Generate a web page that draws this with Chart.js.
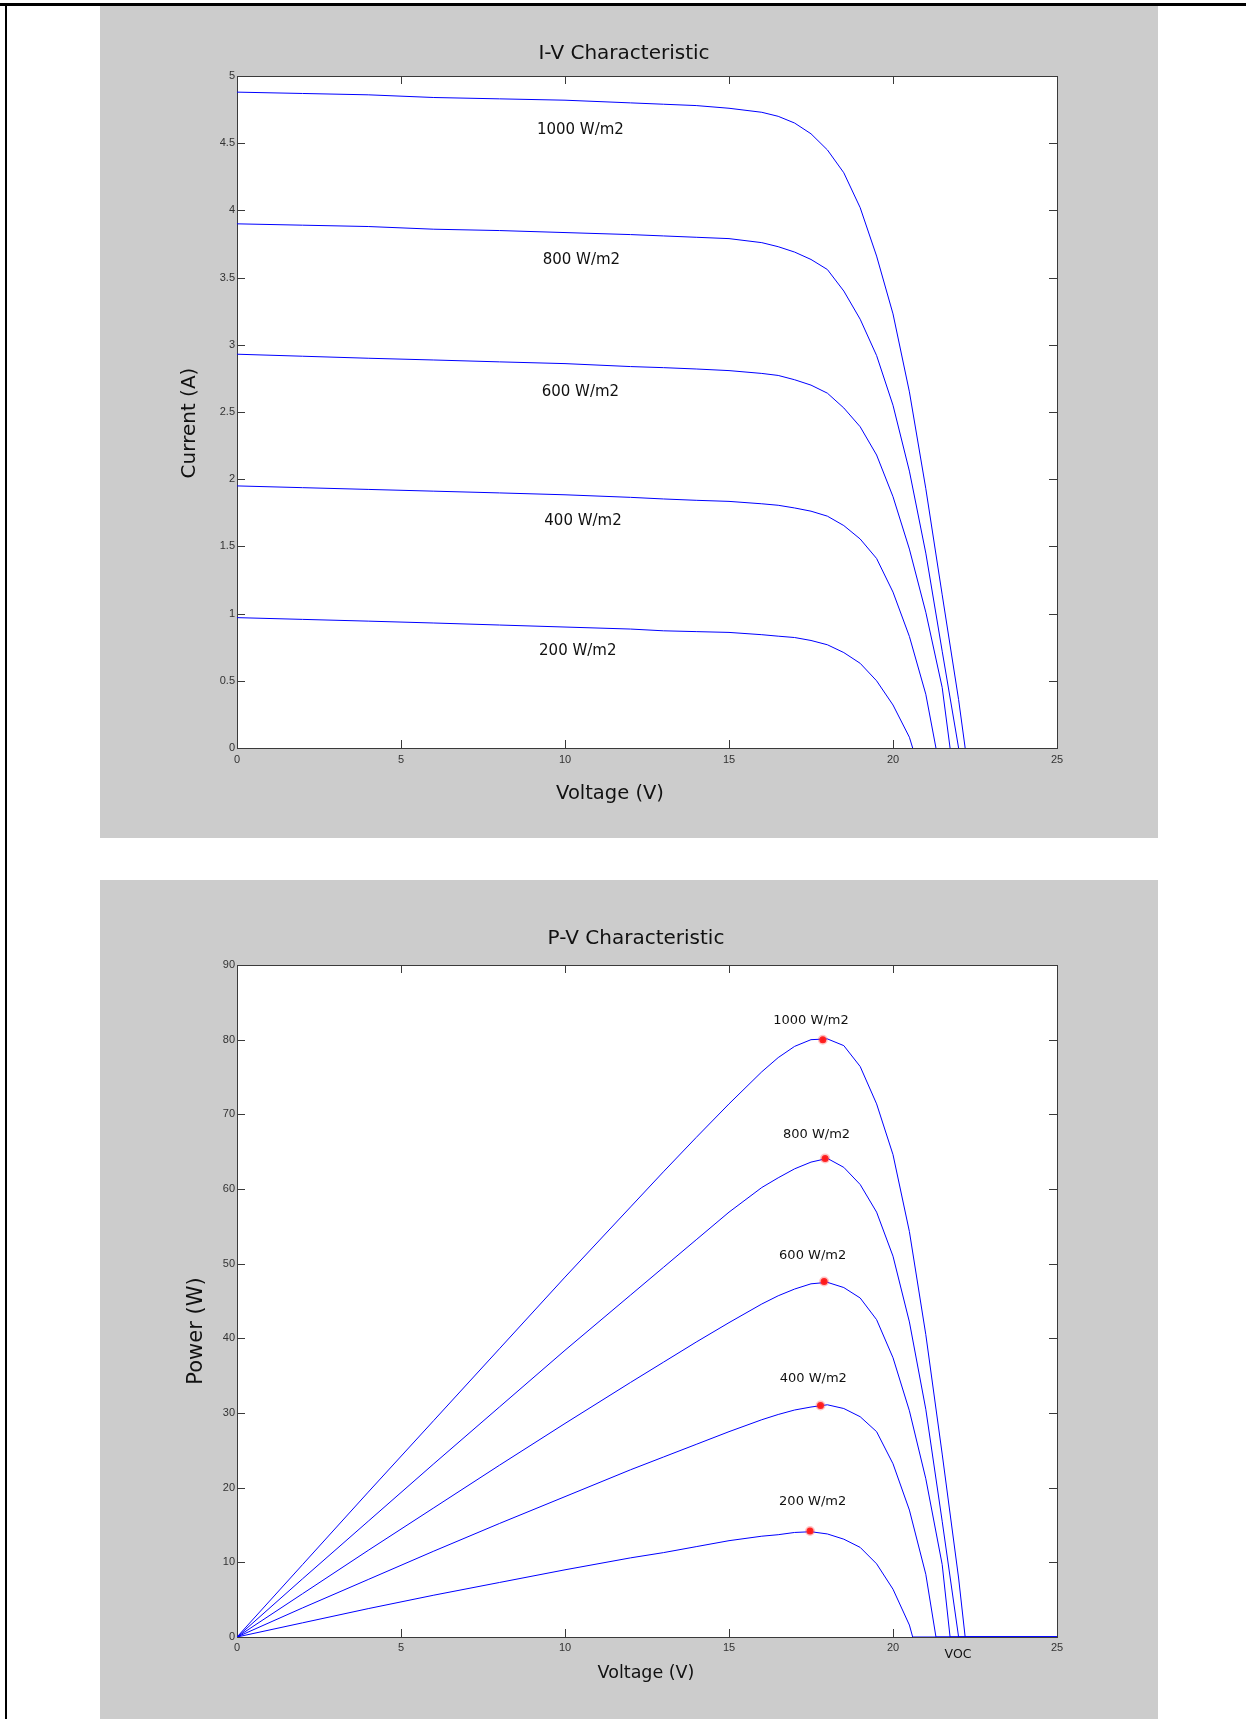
<!DOCTYPE html>
<html>
<head>
<meta charset="utf-8">
<script src="https://cdn.jsdelivr.net/npm/chart.js@4.4.1/dist/chart.umd.min.js"></script>
<style>
  html, body { margin: 0; padding: 0; background: #fff; }
  body { position: relative; width: 1246px; height: 1719px; overflow: hidden; }
  .edge-top { position: absolute; left: 0; top: 3px; width: 1246px; height: 3px; background: #000; }
  .edge-left { position: absolute; left: 5px; top: 3px; width: 2px; height: 1716px; background: #000; }
  .panel { position: absolute; left: 100px; background: #cccccc; }
  #ivPanel { top: 6px; }
  #pvPanel { top: 880px; }
</style>
</head>
<body>
<div class="edge-top"></div>
<div class="edge-left"></div>
<div class="panel" id="ivPanel"><canvas id="ivChart" width="1058" height="832"></canvas></div>
<div class="panel" id="pvPanel"><canvas id="pvChart" width="1058" height="839"></canvas></div>
<script>
// irradiance levels
const levels = ['1000 W/m2', '800 W/m2', '600 W/m2', '400 W/m2', '200 W/m2'];

// voltage grid (V) where the curves were read
const voltage = [0, 2, 4, 6, 8, 10, 12, 13, 14, 15, 16, 16.5, 17, 17.5, 18, 18.5, 19, 19.5, 20, 20.5, 21, 21.5, 22];

// open circuit voltage of each curve (V)
const voc = [22.2, 22.0, 21.74, 21.31, 20.6];

// current (A)
const i1000 = [4.88, 4.87, 4.86, 4.84, 4.83, 4.82, 4.80, 4.79, 4.78, 4.76, 4.73, 4.70, 4.65, 4.57, 4.45, 4.28, 4.02, 3.66, 3.23, 2.65, 1.93, 1.14, 0.36];
const i800 = [3.90, 3.89, 3.88, 3.86, 3.85, 3.835, 3.82, 3.81, 3.80, 3.79, 3.76, 3.73, 3.69, 3.635, 3.56, 3.40, 3.19, 2.92, 2.55, 2.06, 1.45, 0.72];
const i600 = [2.93, 2.915, 2.90, 2.887, 2.873, 2.86, 2.838, 2.83, 2.82, 2.808, 2.787, 2.772, 2.74, 2.70, 2.64, 2.53, 2.39, 2.18, 1.87, 1.48, 1.01, 0.45];
const i400 = [1.95, 1.937, 1.924, 1.911, 1.898, 1.884, 1.865, 1.853, 1.843, 1.835, 1.817, 1.806, 1.786, 1.762, 1.725, 1.655, 1.555, 1.41, 1.16, 0.83, 0.40];
const i200 = [0.97, 0.957, 0.944, 0.93, 0.915, 0.90, 0.885, 0.872, 0.866, 0.86, 0.843, 0.832, 0.822, 0.80, 0.768, 0.71, 0.63, 0.50, 0.32, 0.08];

// power (W)
const p1000 = [0, 9.7, 19.4, 29.0, 38.6, 48.2, 57.6, 62.3, 66.9, 71.4, 75.7, 77.6, 79.1, 80.0, 80.1, 79.2, 76.4, 71.4, 64.6, 54.3, 40.5, 24.5, 7.9];
const p800 = [0, 7.8, 15.5, 23.2, 30.8, 38.4, 45.8, 49.5, 53.2, 56.9, 60.2, 61.5, 62.7, 63.6, 64.1, 62.9, 60.6, 56.9, 51.0, 42.2, 30.5, 15.5];
const p600 = [0, 5.8, 11.6, 17.3, 23.0, 28.6, 34.1, 36.8, 39.5, 42.1, 44.6, 45.7, 46.6, 47.3, 47.5, 46.8, 45.4, 42.5, 37.4, 30.3, 21.2, 9.7];
const p400 = [0, 3.9, 7.7, 11.5, 15.2, 18.8, 22.4, 24.1, 25.8, 27.5, 29.1, 29.8, 30.4, 30.8, 31.1, 30.6, 29.5, 27.5, 23.2, 17.0, 8.4];
const p200 = [0, 1.9, 3.8, 5.6, 7.3, 9.0, 10.6, 11.3, 12.1, 12.9, 13.5, 13.7, 14.0, 14.1, 13.8, 13.1, 12.0, 9.8, 6.4, 1.6];

// maximum power points
const mppV = [17.86, 17.93, 17.9, 17.79, 17.47];
const mppP = [80.0, 64.1, 47.6, 31.0, 14.2];

// axis ticks
const vTicks = [0, 5, 10, 15, 20, 25];
const iTicks = [0, 0.5, 1, 1.5, 2, 2.5, 3, 3.5, 4, 4.5, 5];
const pTicks = [0, 10, 20, 30, 40, 50, 60, 70, 80, 90];

// where the curve names sit (data units)
const ivLabelAt = [[10.47, 4.60], [10.5, 3.63], [10.47, 2.65], [10.55, 1.69], [10.39, 0.72]];
const pvLabelAt = [[17.5, 82.6], [17.67, 67.25], [17.55, 51.06], [17.57, 34.6], [17.55, 18.19]];

const BLUE = '#0000ff';

function ivPoints(vals, vo) {
    return vals.map((y, k) => ({x: voltage[k], y: y})).concat([{x: vo, y: 0}]);
}
function pvPoints(vals, vo) {
    return vals.map((y, k) => ({x: voltage[k], y: y})).concat([{x: vo, y: 0}, {x: vTicks[vTicks.length - 1], y: 0}]);
}

// matlab-like box with inward ticks, plus free text
const matlabAxes = {
    id: 'matlabAxes',
    beforeDraw(chart) {
        const {ctx, chartArea: a} = chart;
        ctx.save();
        ctx.fillStyle = '#ffffff';
        ctx.fillRect(a.left, a.top, a.right - a.left, a.bottom - a.top);
        ctx.restore();
    },
    beforeDatasetsDraw(chart) {
        const {ctx, chartArea: a, scales: {x, y}} = chart;
        const len = 8;
        ctx.save();
        ctx.strokeStyle = '#3a3a3a';
        ctx.lineWidth = 1;
        ctx.beginPath();
        x.ticks.forEach(t => {
            const px = Math.round(x.getPixelForValue(t.value)) + 0.5;
            ctx.moveTo(px, a.bottom); ctx.lineTo(px, a.bottom - len);
            ctx.moveTo(px, a.top); ctx.lineTo(px, a.top + len);
        });
        y.ticks.forEach(t => {
            const py = Math.round(y.getPixelForValue(t.value)) + 0.5;
            ctx.moveTo(a.left, py); ctx.lineTo(a.left + len, py);
            ctx.moveTo(a.right, py); ctx.lineTo(a.right - len, py);
        });
        ctx.stroke();
        ctx.strokeRect(Math.round(a.left) + 0.5, Math.round(a.top) + 0.5,
            Math.round(a.right - a.left), Math.round(a.bottom - a.top));
        ctx.restore();
    },
    afterDraw(chart, args, opts) {
        const {ctx, scales: {x, y}} = chart;
        ctx.save();
        ctx.fillStyle = '#111';
        ctx.textAlign = 'center';
        ctx.textBaseline = 'middle';
        (opts.texts || []).forEach(t => {
            ctx.font = t.font;
            ctx.save();
            ctx.translate(t.x, t.y);
            if (t.rotate) ctx.rotate(t.rotate);
            ctx.fillText(t.text, 0, 0);
            ctx.restore();
        });
        ctx.font = opts.curveFont;
        (opts.curveLabels || []).forEach((p, k) => {
            ctx.fillText(levels[k], x.getPixelForValue(p[0]), y.getPixelForValue(p[1]));
        });
        ctx.restore();
    }
};

function axisOpts(min, max, step, pad, fit) {
    return {
        type: 'linear',
        min: min,
        max: max,
        grid: {display: false, drawTicks: false},
        border: {display: false},
        ticks: {
            stepSize: step,
            autoSkip: false,
            maxRotation: 0,
            padding: pad,
            color: '#333',
            font: {family: 'Liberation Sans', size: 11},
            callback: v => String(v)
        },
        afterFit: fit
    };
}

function lineSet(label, pts) {
    return {
        label: label,
        data: pts,
        borderColor: BLUE,
        borderWidth: 1,
        pointRadius: 0,
        tension: 0,
        fill: false
    };
}

// I-V chart
new Chart(document.getElementById('ivChart').getContext('2d'), {
    type: 'line',
    data: {
        datasets: [
            lineSet(levels[0], ivPoints(i1000, voc[0])),
            lineSet(levels[1], ivPoints(i800, voc[1])),
            lineSet(levels[2], ivPoints(i600, voc[2])),
            lineSet(levels[3], ivPoints(i400, voc[3])),
            lineSet(levels[4], ivPoints(i200, voc[4]))
        ]
    },
    options: {
        responsive: false,
        animation: false,
        layout: {padding: {left: 0, top: 70, right: 101, bottom: 0}},
        scales: {
            x: axisOpts(vTicks[0], vTicks[vTicks.length - 1], vTicks[1] - vTicks[0], 5, s => { s.height = 90; }),
            y: axisOpts(iTicks[0], iTicks[iTicks.length - 1], iTicks[1] - iTicks[0], 2, s => { s.width = 137; })
        },
        plugins: {
            legend: {display: false},
            tooltip: {enabled: false},
            matlabAxes: {
                curveFont: '15px "DejaVu Sans"',
                curveLabels: ivLabelAt,
                texts: [
                    {text: 'I-V Characteristic', x: 524, y: 48, font: '20px "DejaVu Sans"'},
                    {text: 'Voltage (V)', x: 510, y: 788, font: '19.5px "DejaVu Sans"'},
                    {text: 'Current (A)', x: 90, y: 417, font: '20px "DejaVu Sans"', rotate: -Math.PI / 2}
                ]
            }
        }
    },
    plugins: [matlabAxes]
});

// P-V chart
const mppSet = {
    label: 'MPP',
    data: mppV.map((v, k) => ({x: v, y: mppP[k]})),
    showLine: false,
    pointRadius: 3.5,
    pointBackgroundColor: '#ff1a1a',
    pointBorderColor: 'rgba(255, 60, 60, 0.3)',
    pointBorderWidth: 3,
    order: -1
};

new Chart(document.getElementById('pvChart').getContext('2d'), {
    type: 'line',
    data: {
        datasets: [
            mppSet,
            lineSet(levels[0], pvPoints(p1000, voc[0])),
            lineSet(levels[1], pvPoints(p800, voc[1])),
            lineSet(levels[2], pvPoints(p600, voc[2])),
            lineSet(levels[3], pvPoints(p400, voc[3])),
            lineSet(levels[4], pvPoints(p200, voc[4]))
        ]
    },
    options: {
        responsive: false,
        animation: false,
        layout: {padding: {left: 0, top: 85, right: 101, bottom: 0}},
        scales: {
            x: axisOpts(vTicks[0], vTicks[vTicks.length - 1], vTicks[1] - vTicks[0], 4, s => { s.height = 82; }),
            y: axisOpts(pTicks[0], pTicks[pTicks.length - 1], pTicks[1] - pTicks[0], 2, s => { s.width = 137; })
        },
        plugins: {
            legend: {display: false},
            tooltip: {enabled: false},
            matlabAxes: {
                curveFont: '13px "DejaVu Sans"',
                curveLabels: pvLabelAt,
                texts: [
                    {text: 'P-V Characteristic', x: 536, y: 59, font: '20px "DejaVu Sans"'},
                    {text: 'Voltage (V)', x: 546, y: 793, font: '17.5px "DejaVu Sans"'},
                    {text: 'Power (W)', x: 97, y: 451, font: '21px "DejaVu Sans"', rotate: -Math.PI / 2},
                    {text: 'VOC', x: 858, y: 775, font: '12.5px "DejaVu Sans"'}
                ]
            }
        }
    },
    plugins: [matlabAxes]
});
</script>
</body>
</html>
